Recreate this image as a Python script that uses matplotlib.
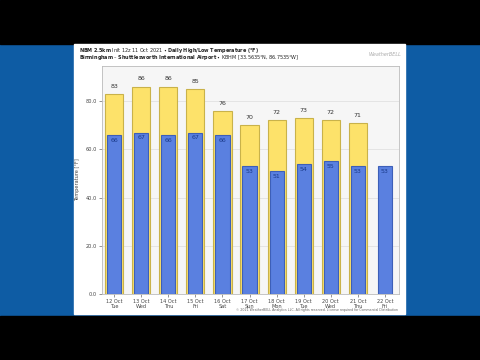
import numpy as np
import matplotlib
matplotlib.use('Agg')
import matplotlib.pyplot as plt
from matplotlib.patches import Rectangle

# daily forecast, NBM 2.5km init 12z 11 Oct 2021, KBHM
days = ['12 Oct\nTue', '13 Oct\nWed', '14 Oct\nThu', '15 Oct\nFri', '16 Oct\nSat',
        '17 Oct\nSun', '18 Oct\nMon', '19 Oct\nTue', '20 Oct\nWed', '21 Oct\nThu',
        '22 Oct\nFri']
highs = [83, 86, 86, 85, 76, 70, 72, 73, 72, 71, None]
lows = [66, 67, 66, 67, 66, 53, 51, 54, 55, 53, 53]
yticks = [0, 20, 40, 60, 80]

fig = plt.figure(figsize=(4.8, 3.6), dpi=100)
fig.patch.set_facecolor('#0e5ca4')

# letterbox bars and white chart panel (video frame look)
fig.patches.append(Rectangle((0, 0), 1, 44 / 360, transform=fig.transFigure,
                             color='black', zorder=-5))
fig.patches.append(Rectangle((0, 1 - 44 / 360), 1, 44 / 360, transform=fig.transFigure,
                             color='black', zorder=-5))
fig.patches.append(Rectangle((74 / 480, 1 - 314 / 360), 331 / 480, 270 / 360,
                             transform=fig.transFigure, color='white', zorder=-5))

ax = fig.add_axes([101.7 / 480, 1 - 294 / 360, 297.3 / 480, 228 / 360])
ax.set_zorder(2)
ax.set_facecolor('#f6f6f6')
x = np.arange(len(days))

hx = [i for i, h in zip(x, highs) if h is not None]
hv = [h for h in highs if h is not None]
ax.bar(hx, hv, width=0.67, color='#fde26a', edgecolor='#c9b24a', linewidth=0.8, zorder=2)
ax.bar(x, lows, width=0.52, color='#5a80e0', edgecolor='#3d5fb8', linewidth=0.8, zorder=3)

for i, h in zip(hx, hv):
    ax.text(i, h + 2.2, str(h), ha='center', va='bottom', fontsize=4.5, color='#333333')
for i, l in zip(x, lows):
    ax.text(i, l - 1.2, str(l), ha='center', va='top', fontsize=4.5, color='#1a3a8a',
            zorder=4)

ax.set_xlim(-0.46, 10.52)
ax.set_ylim(0, 94.6)
ax.set_yticks(yticks)
ax.set_yticklabels(['%.1f' % v for v in yticks])
ax.set_xticks(x)
ax.set_xticklabels(days, linespacing=1.0)
ax.tick_params(labelsize=3.6, colors='#444444', length=2, width=0.4, pad=1.5)
ax.grid(axis='y', color='#dddddd', linewidth=0.5, zorder=0)
ax.set_axisbelow(True)
for s in ax.spines.values():
    s.set_color('#bbbbbb')
    s.set_linewidth(0.6)
ax.set_ylabel('Temperature [°F]', fontsize=3.6, color='#444444', labelpad=4)

fig.text(79 / 480, 1 - 50.5 / 360,
         r'$\bf{NBM\ 2.5km}$ Init 12z 11 Oct 2021 • $\bf{Daily\ High/Low\ Temperature\ (°F)}$',
         fontsize=3.5, color='#222222', va='center')
fig.text(79 / 480, 1 - 58 / 360,
         r'$\bf{Birmingham\ –\ Shuttlesworth\ International\ Airport}$ • KBHM [33.5635°N, 86.7535°W]',
         fontsize=3.5, color='#222222', va='center')
fig.text(385 / 480, 1 - 55 / 360, 'WeatherBELL', fontsize=3.5, color='#aaaaaa',
         ha='center', va='center', style='italic')
fig.text(398 / 480, 1 - 310.5 / 360,
         '© 2021 WeatherBELL Analytics LLC. All rights reserved. License required for Commercial Distribution',
         fontsize=2.3, color='#666666', ha='right', va='center')

fig.savefig('out.png', dpi=100, facecolor=fig.get_facecolor())
